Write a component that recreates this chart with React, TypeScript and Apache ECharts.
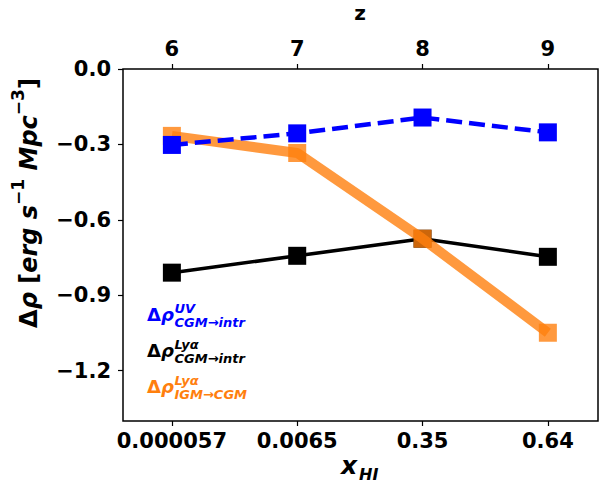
import React, { useEffect, useRef } from 'react';
import * as echarts from 'echarts';

const xPositions = [0, 1, 2, 3];
const xHILabels = ['0.000057', '0.0065', '0.35', '0.64'];
const zLabels = ['6', '7', '8', '9'];
const yTicks = [0, -0.3, -0.6, -0.9, -1.2];
const uvCGMtoIntr = [-0.302, -0.256, -0.193, -0.252];
const lyaCGMtoIntr = [-0.81, -0.743, -0.675, -0.747];
const lyaIGMtoCGM = [-0.266, -0.334, -0.675, -1.049];

const FONT = 'DejaVu Sans';

function toPairs(vals: number[]) {
  return xPositions.map((x, i) => [x, vals[i]]);
}

function legendRow(dy: number, color: string, sup: string, sub: string) {
  const small = { fontFamily: FONT, fontWeight: 'bold', fontStyle: 'italic', fontSize: 13, lineHeight: 14, fill: color };
  return [
    {
      type: 'text', x: 147, y: 314 + dy,
      style: {
        text: '{d|Δ}{r|ρ}', textAlign: 'left', textVerticalAlign: 'middle',
        rich: {
          d: { fontFamily: FONT, fontWeight: 'bold', fontSize: 18, fill: color },
          r: { fontFamily: FONT, fontWeight: 'bold', fontStyle: 'italic', fontSize: 18, fill: color },
        },
      },
    },
    {
      type: 'text', x: 174.5, y: 315.5 + dy,
      style: {
        text: '{s|' + sup + '}\n{s|' + sub + '}', textAlign: 'left', textVerticalAlign: 'middle',
        rich: { s: small },
      },
    },
  ];
}

export default function App() {
  const ref = useRef<HTMLDivElement>(null);
  useEffect(() => {
    if (!ref.current) return;
    const chart = echarts.init(ref.current, undefined, { renderer: 'svg' });
    const labelStyle = { fontFamily: FONT, fontWeight: 'bold' as const, fontSize: 21, color: '#000' };
    const tick = { show: true, inside: false, length: 5, lineStyle: { color: '#000', width: 1.2 } };
    const line = { show: false, onZero: false };
    chart.setOption({
      animation: false,
      backgroundColor: '#fff',
      grid: { left: 123, top: 69, right: 3, bottom: 63, show: true, borderColor: '#000', borderWidth: 1.5, backgroundColor: 'transparent' },
      xAxis: [
        {
          type: 'value', position: 'bottom', min: -0.39, max: 3.4,
          axisLine: line, splitLine: { show: false },
          axisTick: { ...tick, customValues: xPositions },
          axisLabel: { ...labelStyle, margin: 9, customValues: xPositions, formatter: (v: number) => xHILabels[Math.round(v)] ?? '' },
        },
        {
          type: 'value', position: 'top', min: -0.39, max: 3.4,
          axisLine: line, splitLine: { show: false },
          axisTick: { ...tick, customValues: xPositions },
          axisLabel: { ...labelStyle, margin: 10, customValues: xPositions, formatter: (v: number) => zLabels[Math.round(v)] ?? '' },
        },
      ],
      yAxis: {
        type: 'value', min: -1.4, max: 0, position: 'left',
        axisLine: line, splitLine: { show: false },
        axisTick: { ...tick, customValues: yTicks },
        axisLabel: {
          ...labelStyle, margin: 12, customValues: yTicks,
          formatter: (v: number) => (Math.abs(v) < 1e-9 ? '0.0' : '\u2212' + Math.abs(v).toFixed(1)),
        },
      },
      series: [
        {
          type: 'line', data: toPairs(lyaCGMtoIntr), z: 2,
          symbol: 'rect', symbolSize: 18,
          lineStyle: { color: '#000', width: 3.5 },
          itemStyle: { color: '#000' },
        },
        {
          type: 'line', data: toPairs(lyaIGMtoCGM), z: 3,
          symbol: 'rect', symbolSize: 18,
          lineStyle: { color: '#ff7f0e', width: 10, opacity: 0.8 },
          itemStyle: { color: '#ff7f0e', opacity: 0.8 },
        },
        {
          type: 'line', data: toPairs(uvCGMtoIntr), z: 4,
          symbol: 'rect', symbolSize: 18,
          lineStyle: { color: '#0000ff', width: 4.5, type: [16, 7] },
          itemStyle: { color: '#0000ff' },
        },
      ],
      graphic: [
        {
          type: 'text', x: 360, y: 12.5,
          style: { text: 'z', fontFamily: FONT, fontWeight: 'bold', fontSize: 20, fill: '#000', textAlign: 'center', textVerticalAlign: 'middle' },
        },
        {
          type: 'text', x: 341, y: 465,
          style: { text: 'x', fontFamily: FONT, fontWeight: 'bold', fontStyle: 'italic', fontSize: 25, fill: '#000', textAlign: 'left', textVerticalAlign: 'middle' },
        },
        {
          type: 'text', x: 359, y: 474,
          style: { text: 'HI', fontFamily: FONT, fontWeight: 'bold', fontStyle: 'italic', fontSize: 16, fill: '#000', textAlign: 'left', textVerticalAlign: 'middle' },
        },
        {
          type: 'text', x: 25, y: 203, rotation: Math.PI / 2,
          style: {
            text: '{a|Δ}{i|ρ}{a| [}{i|erg s}{s|−1}{i| Mpc}{s|−3}{a|]}',
            textAlign: 'center', textVerticalAlign: 'middle',
            rich: {
              a: { fontFamily: FONT, fontWeight: 'bold', fontSize: 24, fill: '#000', lineHeight: 31, verticalAlign: 'bottom' },
              i: { fontFamily: FONT, fontWeight: 'bold', fontStyle: 'italic', fontSize: 24, fill: '#000', lineHeight: 31, verticalAlign: 'bottom' },
              s: { fontFamily: FONT, fontWeight: 'bold', fontSize: 17, fill: '#000', lineHeight: 18, verticalAlign: 'top' },
            },
          },
        },
        ...legendRow(0, '#0000ff', 'UV', 'CGM→intr'),
        ...legendRow(36, '#000000', 'Lyα', 'CGM→intr'),
        ...legendRow(72, '#ff7f0e', 'Lyα', 'IGM→CGM'),
      ],
    });
    return () => chart.dispose();
  }, []);
  return <div ref={ref} style={{ position: 'fixed', left: 0, top: 0, width: 601, height: 484, background: '#fff' }} />;
}
